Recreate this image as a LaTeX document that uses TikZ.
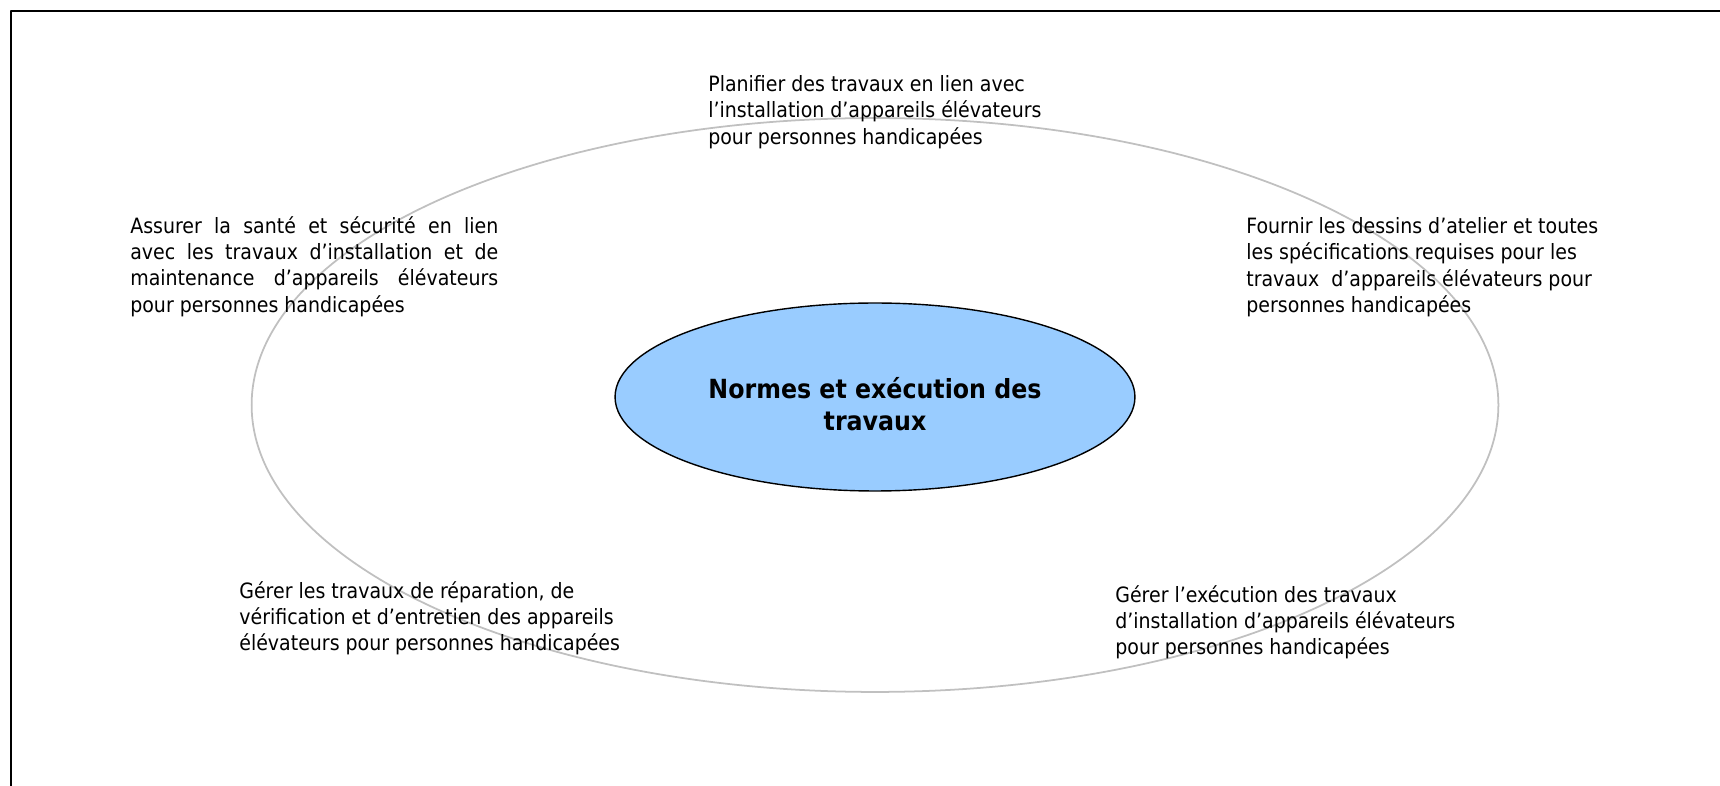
\documentclass[tikz,border=0pt]{standalone}
\usepackage{fontspec}
\IfFontExistsTF{DejaVu Sans Condensed}{\setmainfont{DejaVu Sans Condensed}}{\setmainfont[Scale=0.9]{DejaVu Sans}}
\usetikzlibrary{shapes.geometric}
\definecolor{hubblue}{HTML}{99CCFF}
\definecolor{ringgray}{HTML}{C0C0C0}
\hbadness=10000
\begin{document}
\begin{tikzpicture}[line join = round, line cap = round, x = 0.02cm, y = -0.02cm]
			\pgfmathsetmacro\cx{875}
			\pgfmathsetmacro\cy{405}
			\tikzset{ring/.style={draw=ringgray, line width=1pt},
				hub/.style={ellipse, draw, line width=0.8pt, fill=hubblue, minimum width=10.4cm, minimum height=3.76cm, inner sep=0pt},
				hubtext/.style={inner sep=0pt, align=center, font=\fontsize{15}{18.2}\selectfont\bfseries},
				task/.style={anchor=north west, inner sep=0pt, align=left, font=\fontsize{12}{15}\selectfont}}
			\useasboundingbox (0,0) rectangle (1720,786);
			\draw[line width=1.2pt] (11,786) -- (11,11) -- (1720,11);
			\draw[ring] (\cx,\cy) ellipse [x radius=12.47cm, y radius=5.74cm];
			\node[hub] (hub) at (\cx,397) {};
			\node[hubtext] (hubtitle) at ([yshift=-0.14cm]hub.center) {Normes et exécution des\\travaux};
			\node[task] (plan) at (708,75) {Planifier des travaux en lien avec\\l’installation d’appareils élévateurs\\pour personnes handicapées};
			\node[task, align=justify, text width=7.36cm] (sante) at (130,216) {Assurer la santé et sécurité en lien\linebreak avec les travaux d’installation et de\linebreak maintenance d’appareils élévateurs\linebreak pour personnes handicapées};
			\node[task] (dessins) at (1246,217) {Fournir les dessins d’atelier et toutes\\les spécifications requises pour les\\travaux\ \ d’appareils élévateurs pour\\personnes handicapées};
			\node[task] (reparation) at (239,581) {Gérer les travaux de réparation, de\\vérification et d’entretien des appareils\\élévateurs pour personnes handicapées};
			\node[task] (execution) at (1115,585) {Gérer l’exécution des travaux\\d’installation d’appareils élévateurs\\pour personnes handicapées};
		\end{tikzpicture}
\end{document}
